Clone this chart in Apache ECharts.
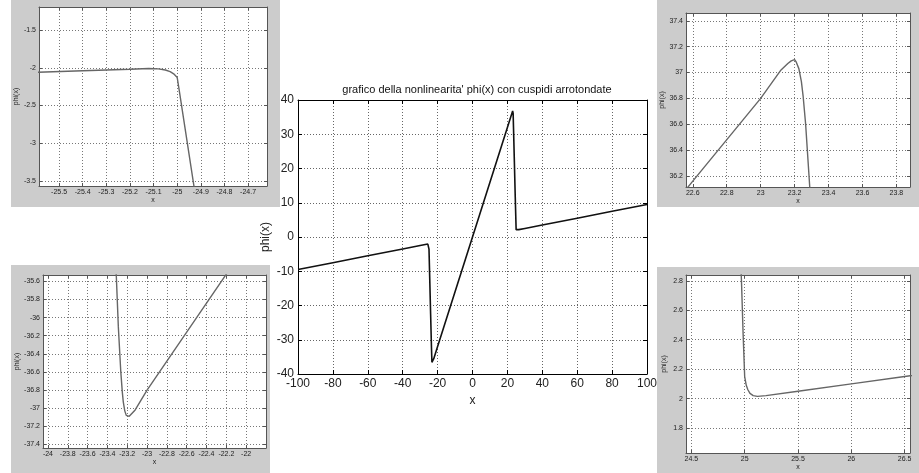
<!DOCTYPE html>
<html><head><meta charset="utf-8">
<script src="https://cdn.jsdelivr.net/npm/echarts@6/dist/echarts.min.js"></script>
<style>html,body{margin:0;padding:0;background:#fff}#c{width:919px;height:473px}</style>
</head><body><div id="c"></div>
<script>
// ---- data: phi(x) ----
const xs = [-100, -80, -60, -40, -30, -25.6, -25.4, -25.2, -25.12, -25.08, -25.05, -25.03, -25.015, -25.0, -24.99, -24.93,
  -24.5, -24, -23.5, -23.31, -23.29, -23.265, -23.25, -23.24, -23.225, -23.21, -23.2, -23.18, -23.16, -23.12, -23.0,
  -22.6, -22.2, -22, -20, -10, 0, 10, 20, 22, 22.6, 23.0, 23.12, 23.16, 23.18, 23.2, 23.21, 23.225, 23.24, 23.25,
  23.265, 23.29, 23.5, 24, 24.5, 24.97, 24.985, 24.995, 25.0, 25.015, 25.03, 25.05, 25.08, 25.12, 25.2, 25.5, 26,
  26.5, 30, 40, 60, 80, 100];
const ys = [-9.5, -7.5, -5.5, -3.5, -2.5, -2.06, -2.04, -2.02, -2.01, -2.015, -2.03, -2.05, -2.08, -2.13, -2.33, -3.55,
  -12.3, -22.5, -32.5, -35.55, -36.1, -36.6, -36.82, -36.93, -37.03, -37.08, -37.1, -37.09, -37.07, -37.02, -36.8,
  -36.16, -35.52, -35.2, -32, -16, 0, 16, 32, 35.2, 36.16, 36.8, 37.02, 37.07, 37.09, 37.1, 37.08, 37.03, 36.93, 36.82,
  36.6, 36.1, 31.9, 21.8, 11.7, 2.8, 2.45, 2.25, 2.15, 2.09, 2.06, 2.035, 2.02, 2.015, 2.02, 2.05, 2.1,
  2.15, 2.5, 3.5, 5.5, 7.5, 9.5];

// ---- tick labels ----
const mainXTicks = [-100, -80, -60, -40, -20, 0, 20, 40, 60, 80, 100];
const mainYTicks = [-40, -30, -20, -10, 0, 10, 20, 30, 40];
const tlXTicks = [-25.5, -25.4, -25.3, -25.2, -25.1, -25, -24.9, -24.8, -24.7];
const tlYTicks = [-3.5, -3, -2.5, -2, -1.5];
const blXTicks = [-24, -23.8, -23.6, -23.4, -23.2, -23, -22.8, -22.6, -22.4, -22.2, -22];
const blYTicks = [-37.4, -37.2, -37, -36.8, -36.6, -36.4, -36.2, -36, -35.8, -35.6];
const trXTicks = [22.6, 22.8, 23, 23.2, 23.4, 23.6, 23.8];
const trYTicks = [36.2, 36.4, 36.6, 36.8, 37, 37.2, 37.4];
const brXTicks = [24.5, 25, 25.5, 26, 26.5];
const brYTicks = [1.8, 2, 2.2, 2.4, 2.6, 2.8];

const mainTitle = "grafico della nonlinearita' phi(x) con cuspidi arrotondate";
const xName = 'x';
const yName = 'phi(x)';

const pts = xs.map((x, i) => [x, ys[i]]);
const FONT = 'Liberation Sans';

const panels = [
  { rect: {left: 298, top: 100, width: 349, height: 274}, xr: [-100, 100], yr: [-40, 40], xt: mainXTicks, yt: mainYTicks,
    big: true },
  { rect: {left: 39, top: 7, width: 228, height: 179}, xr: [-25.585, -24.62], yr: [-3.566, -1.195], xt: tlXTicks, yt: tlYTicks },
  { rect: {left: 43, top: 275, width: 223, height: 173}, xr: [-24.05, -21.8], yr: [-37.44, -35.53], xt: blXTicks, yt: blYTicks },
  { rect: {left: 686, top: 13, width: 224, height: 174}, xr: [22.56, 23.88], yr: [36.115, 37.46], xt: trXTicks, yt: trYTicks },
  { rect: {left: 686, top: 275, width: 224, height: 178}, xr: [24.45, 26.55], yr: [1.63, 2.84], xt: brXTicks, yt: brYTicks }
];

const grid = [], xAxis = [], yAxis = [], series = [];
panels.forEach((p, i) => {
  const big = !!p.big;
  const frame = big ? '#000' : '#555';
  const fs = big ? 12 : 7;
  const nfs = big ? 12 : 7;
  const tickLen = big ? 4 : 3;
  grid.push(Object.assign({ show: true, backgroundColor: '#fff', borderWidth: 0, containLabel: false, outerBoundsMode: 'none' }, p.rect));
  const split = { show: true, lineStyle: { color: big ? '#666' : '#777', type: [1, 2], width: 1 } };
  const mk = (dim, main, ticks, range) => ({
    type: 'value', gridIndex: i, min: range[0], max: range[1],
    position: dim === 'x' ? (main ? 'bottom' : 'top') : (main ? 'left' : 'right'),
    axisLine: { show: true, onZero: false, lineStyle: { color: frame, width: 1 } },
    axisTick: { show: true, inside: true, length: tickLen, customValues: ticks, lineStyle: { color: frame } },
    axisLabel: { show: main, customValues: ticks, fontSize: fs, fontFamily: FONT, color: '#222',
      margin: dim === 'x' ? (big ? 4 : 3) : (big ? 4 : 3), showMinLabel: true, showMaxLabel: true, hideOverlap: false },
    splitLine: main ? split : { show: false },
    name: main ? (dim === 'x' ? xName : yName) : '',
    nameLocation: 'middle',
    nameGap: dim === 'x' ? (big ? 15 : 8) : (big ? 26 : 18),
    nameTextStyle: { fontSize: nfs, fontFamily: FONT, color: '#222' }
  });
  xAxis.push(mk('x', true, p.xt, p.xr));
  xAxis.push(mk('x', false, p.xt, p.xr));
  yAxis.push(mk('y', true, p.yt, p.yr));
  yAxis.push(mk('y', false, p.yt, p.yr));
  series.push({
    type: 'line', xAxisIndex: 2 * i, yAxisIndex: 2 * i, data: pts, showSymbol: false, symbol: 'none',
    clip: true, animation: false, silent: true,
    lineStyle: { color: big ? '#111' : '#666', width: big ? 1.6 : 1.4 }
  });
});

const chart = echarts.init(document.getElementById('c'), null, { renderer: 'canvas' });
chart.setOption({
  animation: false,
  backgroundColor: '#fff',
  title: { text: mainTitle, left: 472, top: 79, textAlign: 'center',
    textStyle: { fontSize: 11, fontWeight: 'normal', fontFamily: FONT, color: '#111' } },
  graphic: [
    { type: 'rect', shape: { x: 11, y: 0, width: 269, height: 207 }, style: { fill: '#cccccc' }, z: -10, silent: true },
    { type: 'rect', shape: { x: 11, y: 265, width: 259, height: 208 }, style: { fill: '#cccccc' }, z: -10, silent: true },
    { type: 'rect', shape: { x: 657, y: 0, width: 262, height: 207 }, style: { fill: '#cccccc' }, z: -10, silent: true },
    { type: 'rect', shape: { x: 657, y: 267, width: 262, height: 206 }, style: { fill: '#cccccc' }, z: -10, silent: true }
  ],
  grid, xAxis, yAxis, series
});
</script></body></html>
